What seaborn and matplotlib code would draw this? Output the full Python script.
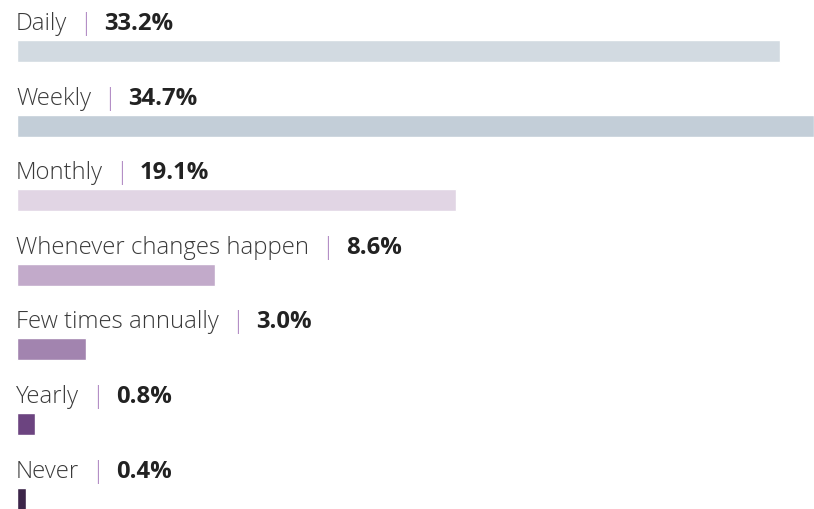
import pandas as pd
import matplotlib
matplotlib.use("Agg")
import matplotlib.pyplot as plt
import seaborn as sns

categories = ["Daily", "Weekly", "Monthly", "Whenever changes happen",
              "Few times annually", "Yearly", "Never"]
values = [33.2, 34.7, 19.1, 8.6, 3.0, 0.8, 0.4]
colors = ["#cfdae4", "#c0cedb", "#e2d3e6", "#c4a5cf", "#a57db6", "#6f3a8a", "#3d1f4f"]

df = pd.DataFrame({"label": categories, "value": values})

sns.set_style("white")
plt.rcParams["font.family"] = ["Open Sans", "DejaVu Sans"]

fig = plt.figure(figsize=(8.14, 5.10), dpi=100)
ax = fig.add_axes([17 / 814, 0, 1 - 17 / 814, 1])

sns.barplot(data=df, x="value", y="label", hue="label", palette=colors,
            orient="h", width=0.295, legend=False, ax=ax)

ax.set_xlim(0, 34.7)
ax.set_ylim(6.14, -0.697)
ax.axis("off")

fig.canvas.draw()
renderer = fig.canvas.get_renderer()
inv = ax.transData.inverted()

def right_edge(t):
    bb = t.get_window_extent(renderer)
    return inv.transform((bb.x1, bb.y0))[0]

def px_to_x(px):
    return px / ax.bbox.width * 34.7

for i, (cat, val) in enumerate(zip(categories, values)):
    y = i - 0.295
    t1 = ax.text(-px_to_x(1), y, cat, fontsize=17.2, fontweight="light", color="#3a3a3a",
                 va="baseline", ha="left")
    x2 = right_edge(t1) + px_to_x(12)
    t2 = ax.text(x2, y, "|", fontsize=17.2, fontweight="light", color="#b48fc6",
                 va="baseline", ha="left")
    x3 = right_edge(t2) + px_to_x(12)
    ax.text(x3, y, f"{val:.1f}%", fontsize=17.2, fontweight="bold", color="#222222",
            va="baseline", ha="left")

fig.savefig("out.png", dpi=100)
